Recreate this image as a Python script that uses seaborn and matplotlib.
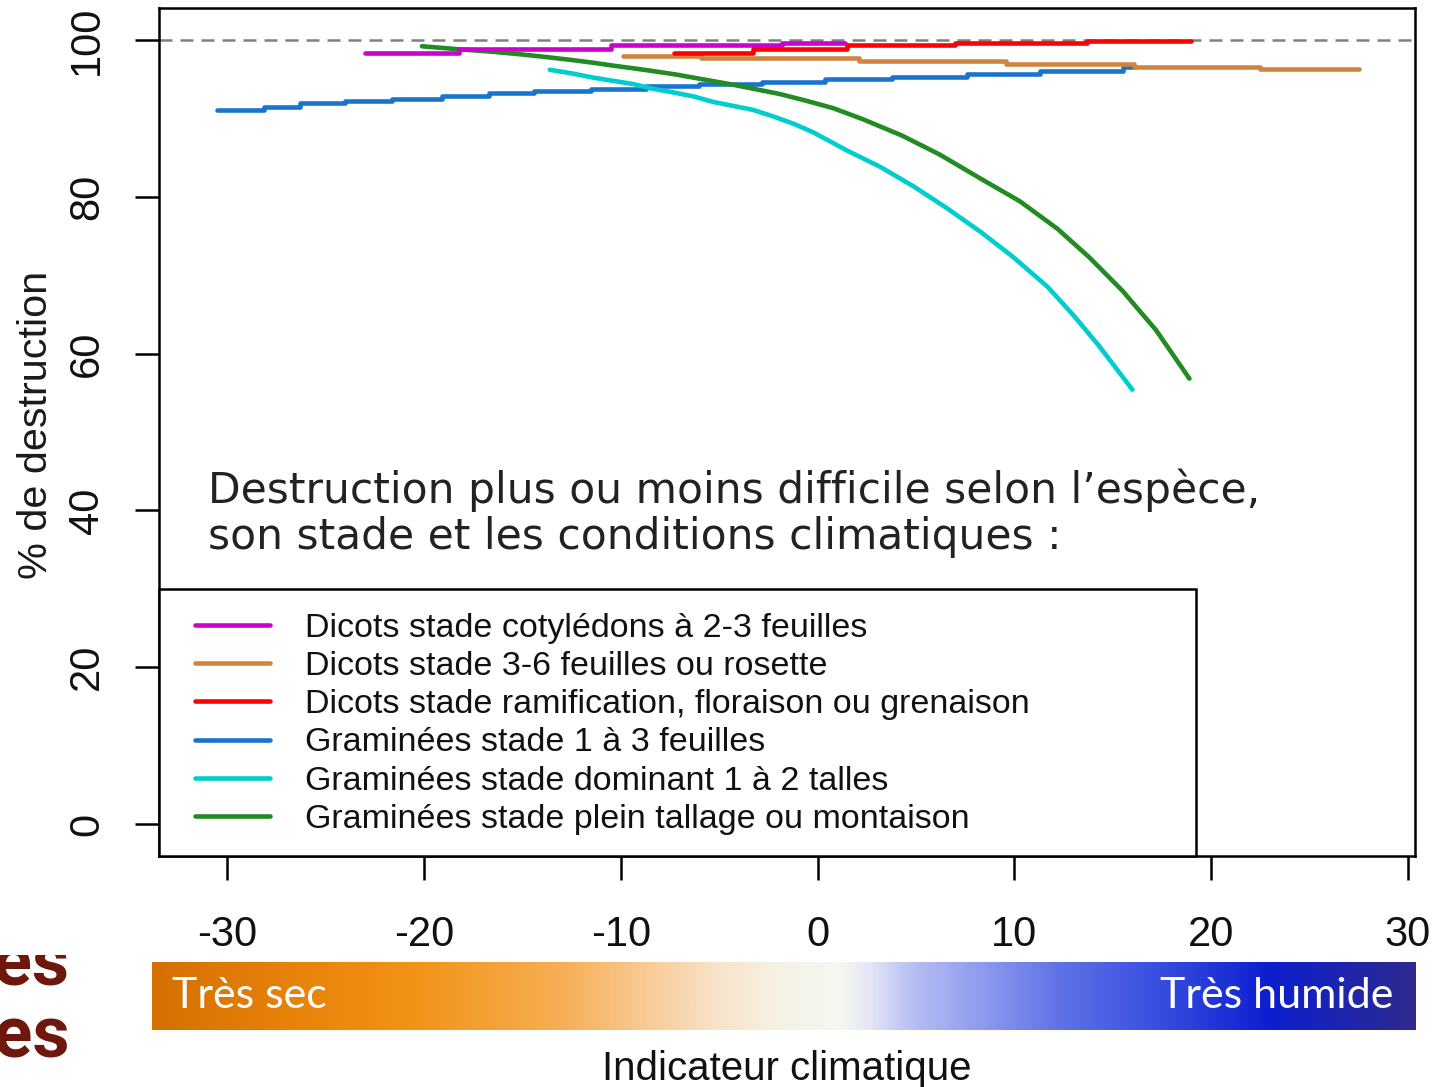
import matplotlib
matplotlib.use('Agg')
import numpy as np
import pandas as pd
import seaborn as sns
import matplotlib.pyplot as plt
from matplotlib.colors import LinearSegmentedColormap
from matplotlib.patches import Rectangle
from matplotlib.lines import Line2D

# ---------------- data ----------------
series_names = [
    "Dicots stade cotylédons à 2-3 feuilles",
    "Dicots stade 3-6 feuilles ou rosette",
    "Dicots stade ramification, floraison ou grenaison",
    "Graminées stade 1 à 3 feuilles",
    "Graminées stade dominant 1 à 2 talles",
    "Graminées stade plein tallage ou montaison",
]
series_colors = ["#cd00cd", "#cd853f", "#ff0000", "#1874cd", "#00cdcd", "#228b22"]

dicot_coty_x = [-23.0, -18.2, -10.5, -1.8, 1.4]
dicot_coty_y = [98.4, 98.9, 99.35, 99.6, 99.6]

dicot_rosette_x = [-9.9, -5.9, 2.1, 9.6, 16.1, 22.5, 27.5]
dicot_rosette_y = [98.0, 97.7, 97.3, 96.9, 96.6, 96.3, 96.3]

dicot_ramif_x = [-7.3, -3.3, 1.5, 7.0, 13.7, 19.0]
dicot_ramif_y = [98.4, 98.85, 99.3, 99.6, 99.85, 99.85]

gram_13f_x = [-30.5, -28.1, -26.3, -24.0, -21.6, -19.1, -16.7, -14.4, -11.5,
              -8.7, -6.0, -2.8, 0.4, 3.8, 7.6, 11.3, 15.5, 16.1]
gram_13f_y = [91.1, 91.5, 91.9, 92.2, 92.5, 92.8, 93.2, 93.5, 93.8,
              94.1, 94.4, 94.7, 95.0, 95.3, 95.7, 96.0, 96.5, 96.5]

gram_talles_x = [-13.6, -12.4, -11.4, -10.4, -9.4, -8.4, -7.3, -6.3, -5.3, -4.3,
                 -3.3, -2.3, -1.2, -0.2, 1.5, 3.2, 4.9, 6.6, 8.3, 9.9,
                 11.7, 13.0, 14.3, 16.0]
gram_talles_y = [96.2, 95.7, 95.2, 94.8, 94.4, 93.8, 93.3, 92.8, 92.1, 91.6,
                 91.1, 90.3, 89.3, 88.2, 85.9, 83.8, 81.3, 78.5, 75.5, 72.4,
                 68.5, 64.9, 61.0, 55.4]

gram_plein_x = [-20.1, -18.4, -16.5, -15.0, -13.7, -12.5, -11.4, -10.3, -9.4, -8.4,
                -7.2, -6.2, -4.3, -3.1, -1.9, -0.5, 0.8, 2.3, 4.3, 6.2,
                8.3, 10.3, 12.2, 13.8, 15.5, 17.2, 18.9]
gram_plein_y = [99.2, 98.85, 98.5, 98.15, 97.8, 97.45, 97.1, 96.7, 96.4, 96.05,
                95.6, 95.15, 94.3, 93.7, 93.1, 92.2, 91.3, 89.9, 87.8, 85.4,
                82.3, 79.4, 75.9, 72.3, 68.0, 63.0, 56.8]

x_ticks = [-30, -20, -10, 0, 10, 20, 30]
y_ticks = [0, 20, 40, 60, 80, 100]
reference_level = 100

annotation = ("Destruction plus ou moins difficile selon l\u2019espèce,\n"
              "son stade et les conditions climatiques :")
x_label = "Indicateur climatique"
y_label = "% de destruction"
dry_label = "Très sec"
wet_label = "Très humide"

# ---------------- style ----------------
sns.set_theme(style="white")
plt.rcParams['font.family'] = ['Liberation Sans', 'DejaVu Sans']
plt.rcParams['axes.unicode_minus'] = False

W, H = 1432, 1087
fig = plt.figure(figsize=(W / 100, H / 100), dpi=100, facecolor="white")

def fx(px):
    return px / W

def fy(py):
    return 1 - py / H

# main axes: box from x=159..1415, y=8..856 px
ax = fig.add_axes([fx(159), fy(856), fx(1415) - fx(159), fy(8) - fy(856)])
ax.set_facecolor("white")
ax.set_zorder(2)

lw = 3.3
steps = [
    (dicot_coty_x, dicot_coty_y, 0),
    (dicot_rosette_x, dicot_rosette_y, 1),
    (dicot_ramif_x, dicot_ramif_y, 2),
    (gram_13f_x, gram_13f_y, 3),
]
smooth = [
    (gram_talles_x, gram_talles_y, 4),
    (gram_plein_x, gram_plein_y, 5),
]

ax.axhline(reference_level, color="#808080", lw=1.8, dashes=(5.2, 3.2), zorder=1)

for xs, ys, i in [steps[3], smooth[0], smooth[1], steps[1], steps[0], steps[2]]:
    df = pd.DataFrame({"x": xs, "y": ys})
    kw = dict(drawstyle="steps-post") if i < 4 else {}
    sns.lineplot(data=df, x="x", y="y", ax=ax, color=series_colors[i],
                 linewidth=lw, estimator=None, sort=False, legend=False,
                 zorder=2, **kw)

ax.set_xlim(-33.46, 30.36)
ax.set_ylim(-4.08, 104.08)
ax.set_xticks(x_ticks)
ax.set_xticklabels([str(v) for v in x_ticks])
ax.set_yticks(y_ticks)
ax.set_yticklabels([str(v) for v in y_ticks], rotation=90, va="center")
ax.set_xlabel("")
ax.set_ylabel(y_label, fontsize=29.8, color="#1a1a1a")
ax.yaxis.set_label_coords(-0.083, 0.508)

for sp in ax.spines.values():
    sp.set_visible(True)
    sp.set_color("black")
    sp.set_linewidth(1.8)

ax.tick_params(axis="x", direction="out", length=17.5, width=1.8, color="black",
               labelsize=30, pad=25, labelcolor="#111111", bottom=True)
ax.tick_params(axis="y", direction="out", length=17.5, width=1.8, color="black",
               labelsize=30, pad=20, labelcolor="#111111", left=True)

# annotation
ax.text(0.039, 0.4575, annotation, transform=ax.transAxes, ha="left", va="top",
        fontsize=30.5, family=["DejaVu Sans"], color="#222222", linespacing=1.14,
        zorder=4)

# legend box
ax.add_patch(Rectangle((0, 0), (1196 - 159) / 1256, 1 - (589 - 8) / 848,
                       transform=ax.transAxes, facecolor="white", edgecolor="black",
                       linewidth=1.8, zorder=3, clip_on=False))
handles = [Line2D([], [], color=c, lw=lw) for c in series_colors]
leg = ax.legend(handles, series_names, loc="upper left",
                bbox_to_anchor=((195 - 159) / 1256, 1 - (613 - 8) / 848),
                frameon=False, fontsize=24.5, handlelength=2.2, handletextpad=1.03,
                borderpad=0, borderaxespad=0, labelspacing=0.21)
leg.set_zorder(5)
for t in leg.get_texts():
    t.set_color("#111111")

# colour gradient bar
gax = fig.add_axes([fx(152), fy(1030), fx(1415) - fx(152), fy(962) - fy(1030)])
gax.set_zorder(2)
stops = [
    (0.000, "#d47000"), (0.117, "#e9830a"), (0.212, "#f29418"), (0.323, "#f6ae55"),
    (0.394, "#f8cc98"), (0.450, "#f8e4cc"), (0.497, "#f6f2e6"), (0.545, "#f5f7f2"),
    (0.568, "#e4e7f5"), (0.600, "#b9c0f2"), (0.655, "#8f9cee"), (0.719, "#5f72e6"),
    (0.790, "#3b52e0"), (0.885, "#0c1fd0"), (1.000, "#2e2a8f"),
]
cmap = LinearSegmentedColormap.from_list("sec_humide", stops)
gax.imshow(np.linspace(0, 1, 512)[None, :], cmap=cmap, aspect="auto",
           extent=(0, 1, 0, 1))
gax.set_axis_off()
gax.text(0.0158, 0.5, dry_label, transform=gax.transAxes, ha="left", va="center",
         fontsize=31, family=["Lato", "DejaVu Sans"], color="white")
gax.text(0.9826, 0.5, wet_label, transform=gax.transAxes, ha="right", va="center",
         fontsize=31, family=["Lato", "DejaVu Sans"], color="white")

fig.text(fx(787), fy(1080), x_label, ha="center", va="baseline", fontsize=29,
         color="#111111", zorder=3)

# fragments of the slide title behind the picture (left edge)
frag_kw = dict(ha="right", va="baseline", fontsize=52, fontweight="bold",
               color="#6e170c", family=["Roboto", "DejaVu Sans"], zorder=0.1)
fig.text(fx(70), fy(985), "ces", **frag_kw)
fig.text(fx(70), fy(1057), "ues", **frag_kw)
fig.add_artist(Rectangle((0, fy(955)), fx(152), 1 - fy(955), transform=fig.transFigure,
                         facecolor="white", edgecolor="none", zorder=0.2))

fig.savefig("out.png", dpi=100, facecolor="white")
